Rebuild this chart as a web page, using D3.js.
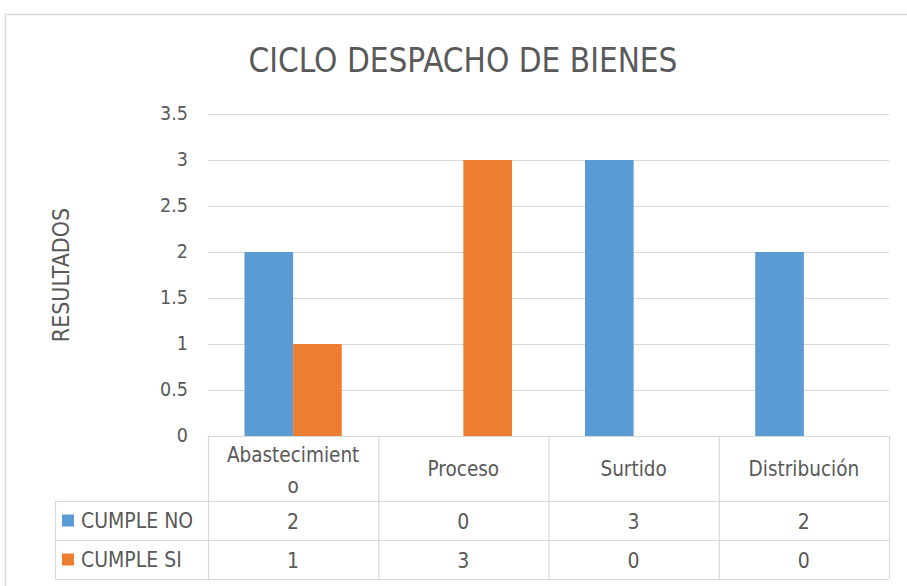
<!DOCTYPE html>
<html>
<head>
<meta charset="utf-8">
<script src="https://cdn.jsdelivr.net/npm/d3@7"></script>
<style>
  body { margin: 0; background: #fff; }
  text { font-family: "DejaVu Sans Condensed", "Liberation Sans Narrow", sans-serif; fill: #595959; }
</style>
</head>
<body>
<script>
// Data
var categories = ["Abastecimiento", "Proceso", "Surtido", "Distribución"];
var seriesNames = ["CUMPLE NO", "CUMPLE SI"];
var cumpleNo = [2, 0, 3, 2];
var cumpleSi = [1, 3, 0, 0];
var yTicks = [0, 0.5, 1, 1.5, 2, 2.5, 3, 3.5];
var colors = ["#5B9BD5", "#ED7D31"];

var seriesValues = [cumpleNo, cumpleSi];

var width = 907, height = 586;
var svg = d3.select("body").append("svg").attr("width", width).attr("height", height);

// chart frame
svg.append("path")
    .attr("d", "M5.5," + height + " V14.5 H" + width)
    .attr("fill", "none").attr("stroke", "#d9d9d9").attr("stroke-width", 1.5);

// Scales
var plot = {left: 208, right: 889, top: 114, bottom: 436};
var x = d3.scaleBand().domain(categories).range([plot.left, plot.right]);
var x1 = d3.scaleBand().domain(seriesNames).range([0, x.bandwidth()]).paddingOuter(0.75);
var y = d3.scaleLinear().domain([0, 3.5]).range([plot.bottom, plot.top]);

// gridlines
svg.append("g").selectAll("line").data(yTicks.slice(1)).enter().append("line")
    .attr("x1", plot.left).attr("x2", plot.right)
    .attr("y1", function(d){ return Math.round(y(d)) + 0.5; })
    .attr("y2", function(d){ return Math.round(y(d)) + 0.5; })
    .attr("stroke", "#d9d9d9").attr("stroke-width", 1.2);

// y axis labels
var yAxis = d3.axisLeft(y).tickValues(yTicks).tickFormat(d3.format("~g")).tickSize(0).tickPadding(0);
var yg = svg.append("g").attr("transform", "translate(188,0)").call(yAxis);
yg.select(".domain").remove();
yg.selectAll("text").style("font-size", "19.5px").attr("fill", "#595959").attr("dy", "0.3em")
    .style("font-family", "DejaVu Sans Condensed");

// bars
var groups = svg.append("g").selectAll("g").data(categories).enter().append("g")
    .attr("transform", function(d){ return "translate(" + x(d) + ",0)"; });
groups.selectAll("rect")
    .data(function(d, i){ return seriesNames.map(function(s, j){ return {s: s, v: seriesValues[j][i], j: j}; }); })
    .enter().append("rect")
    .attr("x", function(d){ return x1(d.s); })
    .attr("width", x1.bandwidth())
    .attr("y", function(d){ return y(d.v); })
    .attr("height", function(d){ return y(0) - y(d.v); })
    .attr("fill", function(d){ return colors[d.j]; });

// data table
var rowTop = 436, headBottom = 501, rowH = 39, legLeft = 55;
var lines = svg.append("g").attr("stroke", "#d9d9d9").attr("stroke-width", 1.2);
lines.append("line").attr("x1", plot.left).attr("x2", plot.right).attr("y1", rowTop + 0.5).attr("y2", rowTop + 0.5);
for (var r = 0; r <= seriesNames.length; r++) {
    var yy = headBottom + r * rowH + 0.5;
    lines.append("line").attr("x1", legLeft).attr("x2", plot.right).attr("y1", yy).attr("y2", yy);
}
lines.append("line").attr("x1", legLeft + 0.5).attr("x2", legLeft + 0.5).attr("y1", headBottom).attr("y2", headBottom + 2 * rowH);
categories.concat([null]).forEach(function(c, i){
    var xx = (c ? x(c) : plot.right) + 0.5;
    lines.append("line").attr("x1", xx).attr("x2", xx).attr("y1", rowTop).attr("y2", headBottom + 2 * rowH);
});

// header labels
var head = svg.append("g");
categories.forEach(function(c){
    var cx = x(c) + x.bandwidth() / 2;
    var t = head.append("text").attr("text-anchor", "middle").style("font-size", "20.5px");
    if (c === "Abastecimiento") {
        t.append("tspan").attr("x", cx).attr("y", 462).text("Abastecimient");
        t.append("tspan").attr("x", cx).attr("y", 493).text("o");
    } else {
        t.attr("x", cx).attr("y", 476).text(c);
    }
});

// rows
seriesNames.forEach(function(s, j){
    var cy = headBottom + j * rowH + rowH / 2;
    svg.append("rect").attr("x", 62).attr("y", cy - 6).attr("width", 12).attr("height", 12).attr("fill", colors[j]);
    svg.append("text").attr("x", 81).attr("y", cy + 7).style("font-size", "21px").text(s);
    categories.forEach(function(c, i){
        svg.append("text").attr("x", x(c) + x.bandwidth() / 2).attr("y", cy + 8)
            .attr("text-anchor", "middle").style("font-size", "21px").text(seriesValues[j][i]);
    });
});

// title
svg.append("text").attr("x", 463).attr("y", 72).attr("text-anchor", "middle")
    .style("font-size", "33px").text("CICLO DESPACHO DE BIENES");

// axis title
svg.append("text").attr("transform", "translate(69,275) rotate(-90)").attr("text-anchor", "middle")
    .style("font-size", "23px").text("RESULTADOS");
</script>
</body>
</html>
